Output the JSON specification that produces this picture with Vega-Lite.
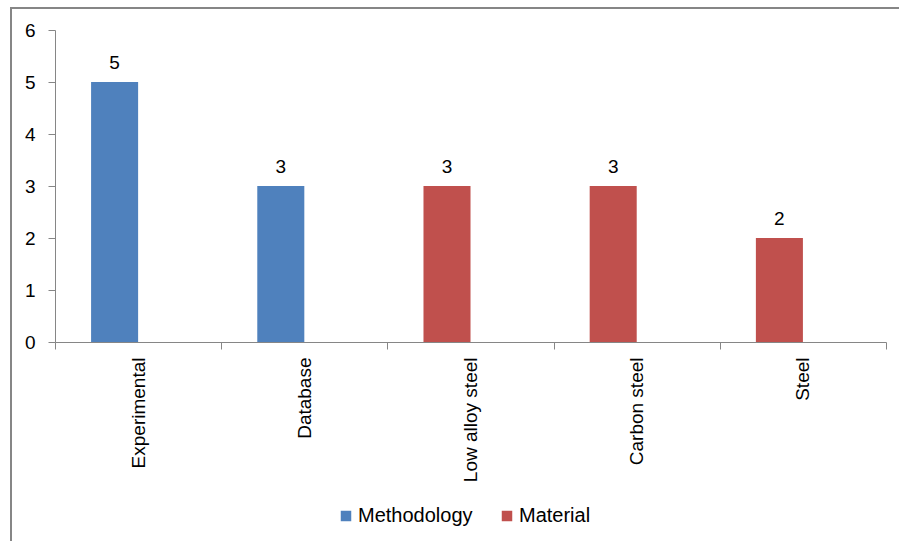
{
  "$schema": "https://vega.github.io/schema/vega-lite/v6.json",
  "width": 900,
  "height": 545,
  "autosize": {"type": "none"},
  "padding": {"left": 11, "top": 8, "right": 0, "bottom": 0},
  "background": "white",
  "config": {
    "view": {"stroke": "#868686", "strokeWidth": 2},
    "font": "Liberation Sans",
    "axis": {
      "domainColor": "#868686",
      "tickColor": "#868686",
      "domainWidth": 1,
      "tickWidth": 1,
      "tickSize": 7,
      "labelFont": "Liberation Sans",
      "labelFontSize": 19,
      "labelColor": "#000000",
      "grid": false,
      "title": null
    }
  },
  "data": {
    "values": [
      {"category": "Experimental", "group": "Methodology", "count": 5},
      {"category": "Database", "group": "Methodology", "count": 3},
      {"category": "Low alloy steel", "group": "Material", "count": 3},
      {"category": "Carbon steel", "group": "Material", "count": 3},
      {"category": "Steel", "group": "Material", "count": 2}
    ]
  },
  "encoding": {
    "x": {
      "field": "category",
      "type": "nominal",
      "sort": null,
      "scale": {"range": [44, 875], "paddingInner": 0, "paddingOuter": 0},
      "axis": {
        "offset": -211,
        "tickBand": "extent",
        "labelAngle": -90,
        "labelPadding": 8
      }
    },
    "y": {
      "field": "count",
      "type": "quantitative",
      "scale": {"domain": [0, 6], "range": [334, 22], "nice": false},
      "axis": {
        "offset": -44,
        "values": [0, 1, 2, 3, 4, 5, 6],
        "labelPadding": 13
      }
    }
  },
  "layer": [
    {
      "mark": {"type": "bar", "width": {"band": 0.283}, "xOffset": -23.5},
      "encoding": {
        "color": {
          "field": "group",
          "type": "nominal",
          "scale": {"domain": ["Methodology", "Material"], "range": ["#4F81BD", "#C0504D"]},
          "legend": {
            "orient": "none",
            "direction": "horizontal",
            "legendX": 325,
            "legendY": 498,
            "title": null,
            "symbolType": "square",
            "symbolSize": 110,
            "symbolStrokeWidth": 0,
            "labelFontSize": 20,
            "labelColor": "#000000",
            "labelOffset": 2,
            "columnPadding": 24
          }
        }
      }
    },
    {
      "mark": {"type": "text", "xOffset": -23.5, "dy": -13, "baseline": "alphabetic", "fontSize": 19, "color": "#000000"},
      "encoding": {"text": {"field": "count", "type": "quantitative"}}
    }
  ]
}
